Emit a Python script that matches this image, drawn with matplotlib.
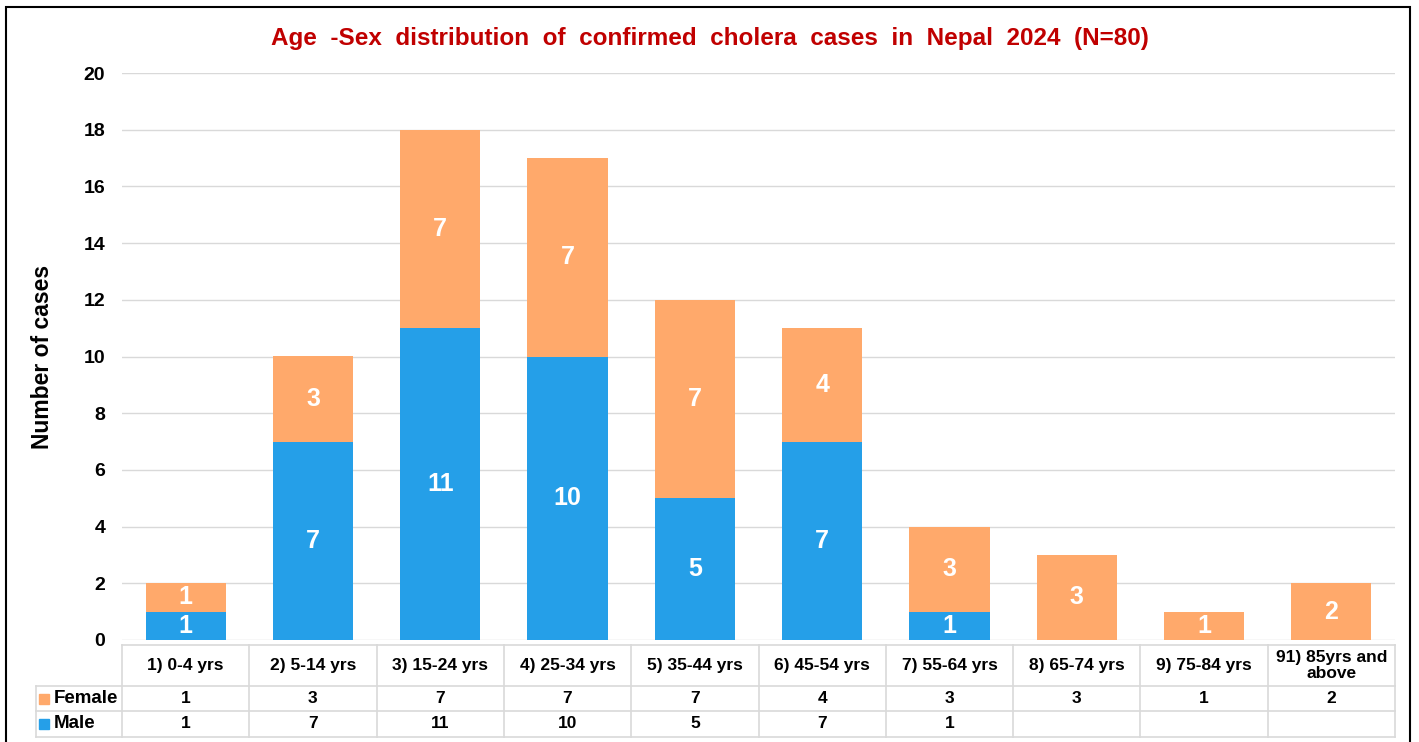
import matplotlib
matplotlib.use("Agg")
from matplotlib import pyplot as plt
from matplotlib import transforms
from matplotlib.patches import Rectangle
from matplotlib.lines import Line2D

plt.rcParams['font.family'] = ['Liberation Sans', 'DejaVu Sans']

age_groups = ["1) 0-4 yrs", "2) 5-14 yrs", "3) 15-24 yrs", "4) 25-34 yrs", "5) 35-44 yrs",
              "6) 45-54 yrs", "7) 55-64 yrs", "8) 65-74 yrs", "9) 75-84 yrs", "91) 85yrs and\nabove"]
male = [1, 7, 11, 10, 5, 7, 1, 0, 0, 0]
female = [1, 3, 7, 7, 7, 4, 3, 3, 1, 2]

BLUE = "#259FE8"
ORANGE = "#FFA96B"
GRID = "#D9D9D9"

W, H = 1419, 742
fig = plt.figure(figsize=(W / 100, H / 100), dpi=100)


def fy(y):
    return (H - y) / H


ax = fig.add_axes([122 / W, fy(640), (1395 - 122) / W, (640 - 73) / H])
x = list(range(len(age_groups)))
ax.bar(x, male, width=0.63, color=BLUE, zorder=3)
ax.bar(x, female, width=0.63, bottom=male, color=ORANGE, zorder=3)

for i in x:
    if male[i]:
        ax.text(i, male[i] / 2, str(male[i]), ha="center", va="center",
                color="white", fontsize=18, fontweight="bold", zorder=4)
    if female[i]:
        ax.text(i, male[i] + female[i] / 2, str(female[i]), ha="center", va="center",
                color="white", fontsize=18, fontweight="bold", zorder=4)

ax.set_xlim(-0.5, len(age_groups) - 0.5)
ax.set_ylim(0, 20)
ax.set_yticks(range(0, 21, 2))
ax.set_xticks([])
ax.tick_params(axis="y", length=0, labelsize=14, pad=12)
for lab in ax.get_yticklabels():
    lab.set_fontweight("bold")
ax.grid(axis="y", color=GRID, linewidth=1, zorder=0)
for s in ax.spines.values():
    s.set_visible(False)
ax.set_ylabel("Number of cases", fontsize=16.5, fontweight="bold")
ax.yaxis.set_label_coords(-68 / 1273, 0.5)

title = "Age  -Sex  distribution  of  confirmed  cholera  cases  in  Nepal  2024  (N=80)"
fig.text(710 / W, fy(38), title, ha="center", va="center", color="#C00000",
         fontsize=17.5, fontweight="bold")

# data table below the chart
tr = transforms.blended_transform_factory(ax.transData, fig.transFigure)
y_top, y_f, y_m, y_bot = 645, 686, 711, 737
left_lbl = 36
n = len(age_groups)

fig.add_artist(Line2D([-0.5, n - 0.5], [fy(y_top), fy(y_top)], color=GRID, lw=1.2, transform=tr))
for y in (y_f, y_m, y_bot):
    fig.add_artist(Line2D([left_lbl / W, 1395 / W], [fy(y), fy(y)], color=GRID, lw=1.2,
                          transform=fig.transFigure))
fig.add_artist(Line2D([left_lbl / W, left_lbl / W], [fy(y_f), fy(y_bot)], color=GRID, lw=1.2,
                      transform=fig.transFigure))
for i in range(n + 1):
    fig.add_artist(Line2D([i - 0.5, i - 0.5], [fy(y_top), fy(y_bot)], color=GRID, lw=1.2,
                          transform=tr))

for i in x:
    fig.text(i, fy((y_top + y_f) / 2), age_groups[i], transform=tr, ha="center", va="center",
             fontsize=12.5, fontweight="bold", linespacing=1.15)
    fig.text(i, fy((y_f + y_m) / 2), str(female[i]) if female[i] else "", transform=tr,
             ha="center", va="center", fontsize=12.5, fontweight="bold")
    fig.text(i, fy((y_m + y_bot) / 2), str(male[i]) if male[i] else "", transform=tr,
             ha="center", va="center", fontsize=12.5, fontweight="bold")

for y0, y1, name, col in ((y_f, y_m, "Female", ORANGE), (y_m, y_bot, "Male", BLUE)):
    yc = (y0 + y1) / 2
    fig.add_artist(Rectangle((39 / W, fy(yc + 5)), 10 / W, 10 / H, color=col,
                             transform=fig.transFigure))
    fig.text(54 / W, fy(yc), name, ha="left", va="center", fontsize=13.5, fontweight="bold")

# outer border
fig.add_artist(Rectangle((6 / W, fy(745)), (1410 - 6) / W, (745 - 7) / H, fill=False,
                         edgecolor="black", lw=1.5, transform=fig.transFigure))

fig.savefig("out.png", dpi=100)
